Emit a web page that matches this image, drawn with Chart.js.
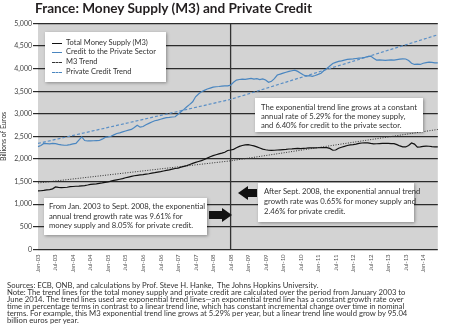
<!DOCTYPE html>
<html>
<head>
<meta charset="utf-8">
<script src="https://cdn.jsdelivr.net/npm/chart.js@4.4.1/dist/chart.umd.min.js"></script>
<style>
  body { margin: 0; background: #fff; font-family: Lato, "Open Sans", sans-serif; }
  #wrap { position: relative; width: 450px; height: 329px; overflow: hidden; }
  #chart { position: absolute; left: 0; top: 0; }
  .title { position: absolute; left: 35px; top: 0px; font-weight: bold; font-size: 13.6px; color: #231f20; white-space: nowrap; }
  .box { position: absolute; background: #fff; box-shadow: 1px 1px 3px rgba(0,0,0,.35); font-size: 7.7px; line-height: 9px; color: #333; white-space: nowrap; }
  .legend { left: 45px; top: 32px; width: 121px; height: 50px; }
  .legend div { position: absolute; left: 21px; font-size: 7.5px; line-height: 9px; }
  .legend span { position: absolute; left: 7px; width: 10px; height: 0; }
  .note1 { left: 255px; top: 98px; width: 168px; height: 34px; padding: 5px 0 0 6px; box-sizing: border-box; }
  .note2 { left: 44px; top: 198px; width: 163px; height: 37px; padding: 4px 0 0 5px; box-sizing: border-box; line-height: 9.5px; }
  .note3 { left: 258px; top: 183px; width: 156px; height: 39px; padding: 4px 0 0 6px; box-sizing: border-box; line-height: 9.8px; }
  .footer { position: absolute; left: 7px; top: 282px; font-size: 7.7px; line-height: 7px; color: #333; white-space: nowrap; }
  .arrow { position: absolute; }
  .arrow .shaft { position: absolute; background: #111; }
  .arrow .head { position: absolute; width: 0; height: 0; border-top: 7px solid transparent; border-bottom: 7px solid transparent; }
</style>
</head>
<body>
<div id="wrap">
  <canvas id="chart" width="450" height="329"></canvas>
  <div class="title">France: Money Supply (M3) and Private Credit</div>

  <div class="box legend">
    <span style="top:11px;border-top:1px solid #111"></span><div style="top:6px">Total Money Supply (M3)</div>
    <span style="top:20px;border-top:1px solid #4a86c0"></span><div style="top:15px">Credit to the Private Sector</div>
    <span style="top:30px;border-top:1px dashed #333"></span><div style="top:25px">M3 Trend</div>
    <span style="top:40px;border-top:1px dashed #4a86c0"></span><div style="top:35px">Private Credit Trend</div>
  </div>

  <div class="box note1">The exponential trend line grows at a constant<br>annual rate of 5.29% for the money supply,<br>and 6.40% for credit to the private sector.</div>
  <div class="box note2">From Jan. 2003 to Sept. 2008, the exponential<br>annual trend growth rate was 9.61% for<br>money supply and 8.05% for private credit.</div>
  <div class="box note3">After Sept. 2008, the exponential annual trend<br>growth rate was 0.65% for money supply and<br>2.46% for private credit.</div>

  <div class="arrow" style="left:238px;top:186px">
    <div class="head" style="left:0;top:0;border-right:10px solid #111"></div>
    <div class="shaft" style="left:10px;top:3px;width:9px;height:8px"></div>
  </div>
  <div class="arrow" style="left:209px;top:208px">
    <div class="shaft" style="left:0;top:3px;width:13px;height:8px"></div>
    <div class="head" style="left:13px;top:0;border-left:10px solid #111"></div>
  </div>

  <div class="footer">Sources: ECB, ONB, and calculations by Prof. Steve H. Hanke,&nbsp; The Johns Hopkins University.<br>Note: The trend lines for the total money supply and private credit are calculated over the period from January 2003 to<br>June 2014. The trend lines used are exponential trend lines—an exponential trend line has a constant growth rate over<br>time in percentage terms in contrast to a linear trend line, which has constant incremental change over time in nominal<br>terms. For example, this M3 exponential trend line grows at 5.29% per year, but a linear trend line would grow by 95.04<br>billion euros per year.</div>
</div>

<script>
// ---- data (billions of euros, monthly Jan-03 .. Jun-14) ----
var monthNames = ['Jan', 'Feb', 'Mar', 'Apr', 'May', 'Jun', 'Jul', 'Aug', 'Sep', 'Oct', 'Nov', 'Dec'];
var firstYear = 2003, lastYear = 2014, lastMonth = 6;

var m3Supply = [
  1295, 1298, 1305, 1318, 1325, 1340, 1382, 1372, 1368, 1370, 1376, 1388,
  1392, 1398, 1402, 1408, 1412, 1425, 1440, 1446, 1450, 1462, 1472, 1484,
  1492, 1510, 1528, 1540, 1552, 1565, 1585, 1600, 1615, 1630, 1640, 1648,
  1655, 1665, 1675, 1690, 1700, 1712, 1722, 1735, 1748, 1760, 1775, 1790,
  1800, 1820, 1838, 1855, 1880, 1905, 1925, 1945, 1965, 1990, 2020, 2050,
  2075, 2095, 2115, 2130, 2150, 2190, 2200, 2215, 2250, 2280, 2300, 2315,
  2320, 2305, 2290, 2270, 2245, 2220, 2205, 2195, 2190, 2195, 2200, 2205,
  2210, 2215, 2222, 2225, 2230, 2235, 2232, 2238, 2240, 2245, 2248, 2246,
  2250, 2252, 2255, 2254, 2235, 2195, 2200, 2240, 2262, 2280, 2300, 2315,
  2320, 2330, 2345, 2355, 2360, 2358, 2345, 2335, 2338, 2342, 2345, 2348,
  2345, 2340, 2342, 2320, 2290, 2270, 2268, 2300, 2355, 2330, 2265, 2270,
  2280, 2285, 2283, 2275, 2270, 2268
];

var privateCredit = [
  2275, 2300, 2345, 2340, 2335, 2345, 2340, 2325, 2312, 2305, 2310, 2320,
  2335, 2345, 2420, 2490, 2410, 2400, 2402, 2405, 2408, 2410, 2440, 2478,
  2490, 2505, 2535, 2565, 2580, 2600, 2620, 2640, 2655, 2700, 2750, 2705,
  2720, 2760, 2790, 2820, 2847, 2860, 2880, 2900, 2915, 2921, 2930, 2936,
  2990, 3046, 3100, 3157, 3210, 3268, 3378, 3440, 3488, 3520, 3550, 3570,
  3590, 3600, 3605, 3612, 3618, 3620, 3635, 3700, 3747, 3760, 3770, 3765,
  3775, 3785, 3770, 3780, 3760, 3775, 3750, 3700, 3720, 3780, 3860, 3880,
  3900, 3920, 3940, 3955, 3968, 3940, 3900, 3860, 3836, 3845, 3830, 3850,
  3873, 3900, 3960, 4006, 4060, 4116, 4140, 4160, 4174, 4190, 4205, 4210,
  4215, 4225, 4235, 4241, 4250, 4265, 4278, 4230, 4190, 4195, 4190, 4185,
  4190, 4195, 4190, 4200, 4210, 4219, 4215, 4180, 4120, 4094, 4100, 4094,
  4120, 4135, 4145, 4138, 4130, 4128
];

// trend lines read at start, break and end
var trendMonths = ['Jan-03', 'Jul-08', 'Jun-14'];
var m3Trend = [1470, 1960, 2655];
var creditTrend = [2345, 3320, 4750];

var breakMonth = 'Jul-08';
var yTicks = [0, 500, 1000, 1500, 2000, 2500, 3000, 3500, 4000, 4500, 5000];

// ---- build ----
var months = [];
for (var y = firstYear; y <= lastYear; y++) {
  for (var k = 0; k < 12; k++) {
    if (y === lastYear && k >= lastMonth) break;
    months.push(monthNames[k] + '-' + String(y).slice(2));
  }
}

function trendPoints(vals) {
  return vals.map(function (v, i) { return { x: trendMonths[i], y: v }; });
}

var plotBackground = {
  id: 'plotBackground',
  beforeDraw: function (chart) {
    var a = chart.chartArea, ctx = chart.ctx;
    ctx.save();
    ctx.fillStyle = '#d3d3d3';
    ctx.fillRect(a.left, a.top, a.right - a.left, a.bottom - a.top);
    ctx.restore();
  }
};

var breakLine = {
  id: 'breakLine',
  beforeDatasetsDraw: function (chart) {
    var a = chart.chartArea, ctx = chart.ctx;
    var x = chart.scales.x.getPixelForValue(months.indexOf(breakMonth));
    ctx.save();
    ctx.strokeStyle = '#333';
    ctx.lineWidth = 1.3;
    ctx.beginPath();
    ctx.moveTo(x, a.top);
    ctx.lineTo(x, a.bottom);
    ctx.stroke();
    ctx.restore();
  }
};

new Chart(document.getElementById('chart'), {
  type: 'line',
  data: {
    labels: months,
    datasets: [
      { label: 'Total Money Supply (M3)', data: m3Supply, borderColor: '#111', borderWidth: 1.2, pointRadius: 0, tension: 0 },
      { label: 'Credit to the Private Sector', data: privateCredit, borderColor: '#4a86c0', borderWidth: 1.2, pointRadius: 0, tension: 0 },
      { label: 'M3 Trend', data: trendPoints(m3Trend), borderColor: '#333', borderWidth: 1, borderDash: [1, 1.5], pointRadius: 0, spanGaps: true },
      { label: 'Private Credit Trend', data: trendPoints(creditTrend), borderColor: '#5a8fc6', borderWidth: 1.2, borderDash: [3, 2], pointRadius: 0, spanGaps: true }
    ]
  },
  options: {
    responsive: false,
    animation: false,
    devicePixelRatio: 1,
    layout: { padding: { top: 23.5, right: 9, bottom: 51.6, left: 0 } },
    plugins: { legend: { display: false }, tooltip: { enabled: false }, title: { display: false } },
    scales: {
      x: {
        type: 'category',
        grid: { display: false, drawTicks: false },
        border: { display: false },
        afterFit: function (s) { s.height = 28; },
        ticks: {
          autoSkip: false, maxRotation: 90, minRotation: 90, padding: 5,
          font: { family: 'Lato', size: 6 }, color: '#555',
          callback: function (v, i) { return i % 6 === 0 ? months[i] : ''; }
        }
      },
      y: {
        min: 0, max: 5000,
        afterFit: function (s) { s.width = 38; },
        afterBuildTicks: function (s) { s.ticks = yTicks.map(function (v) { return { value: v }; }); },
        border: { display: false },
        grid: { color: '#2b2b2b', lineWidth: 1.2, tickLength: 5 },
        title: { display: true, text: 'Billions of Euros', font: { family: 'Lato', size: 7 }, color: '#333', padding: 0 },
        ticks: {
          padding: 1, font: { family: 'Lato', size: 7 }, color: '#444',
          callback: function (v) { return v.toLocaleString('en-US'); }
        }
      }
    }
  },
  plugins: [plotBackground, breakLine]
});
</script>
</body>
</html>
